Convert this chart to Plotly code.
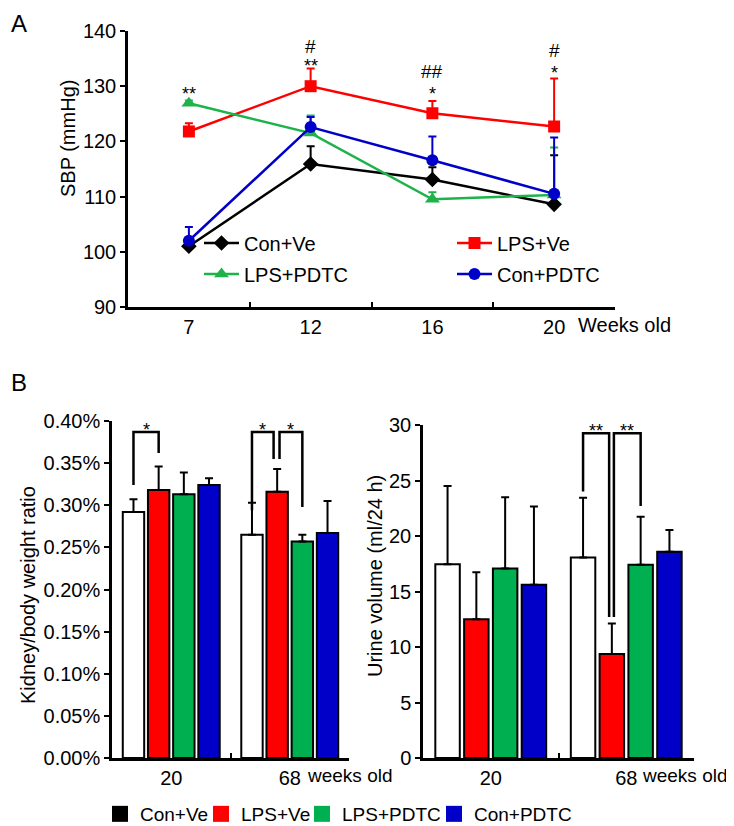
import plotly.graph_objects as go

# ---- panel A: systolic blood pressure ----
weeks = ["7", "12", "16", "20"]
sbp_con_ve = [101.0, 115.9, 113.1, 108.6]
sbp_con_ve_err = [0.4, 3.2, 2.2, 8.9]
sbp_lps_ve = [121.8, 130.0, 125.1, 122.7]
sbp_lps_ve_err = [1.5, 3.2, 2.2, 8.7]
sbp_lps_pdtc = [126.9, 121.5, 109.5, 110.3]
sbp_lps_pdtc_err = [0.5, 3.2, 1.3, 8.6]
sbp_con_pdtc = [102.0, 122.6, 116.6, 110.5]
sbp_con_pdtc_err = [2.5, 1.8, 4.3, 10.2]
sig_a_star = ["**", "**", "*", "*"]
sig_a_star_y = [128.5, 133.7, 128.5, 132.4]
sig_a_hash = ["", "#", "##", "#"]
sig_a_hash_y = [None, 137.2, 132.6, 136.4]

# ---- panel B ----
ages = ["20", "68"]
groups = ["Con+Ve", "LPS+Ve", "LPS+PDTC", "Con+PDTC"]
kidney = {
    "Con+Ve": [0.292, 0.265],
    "LPS+Ve": [0.318, 0.316],
    "LPS+PDTC": [0.313, 0.257],
    "Con+PDTC": [0.324, 0.267],
}
kidney_err = {
    "Con+Ve": [0.015, 0.038],
    "LPS+Ve": [0.028, 0.027],
    "LPS+PDTC": [0.026, 0.008],
    "Con+PDTC": [0.008, 0.038],
}
urine = {
    "Con+Ve": [17.46, 18.06],
    "LPS+Ve": [12.5, 9.38],
    "LPS+PDTC": [17.07, 17.4],
    "Con+PDTC": [15.6, 18.58],
}
urine_err = {
    "Con+Ve": [7.05, 5.38],
    "LPS+Ve": [4.24, 2.73],
    "LPS+PDTC": [6.43, 4.33],
    "Con+PDTC": [7.06, 1.95],
}
fills = {"Con+Ve": "white", "LPS+Ve": "#FF0000", "LPS+PDTC": "#00B050", "Con+PDTC": "#0000C8"}
swatch = {"Con+Ve": "black", "LPS+Ve": "#FF0000", "LPS+PDTC": "#00B050", "Con+PDTC": "#0000C8"}

FONT = "Liberation Sans, Arial, sans-serif"
W, H = 734, 826
OFF = 8  # the page body margin shifts the figure by 8 px


def px_x(p):
    return (p - OFF) / W


def px_y(p):
    return 1 - (p - OFF) / H


fig = go.Figure()

leg_common = dict(orientation="h", font=dict(size=20, family=FONT, color="black"),
                  bgcolor="rgba(0,0,0,0)", yanchor="middle", xanchor="left", borderwidth=0)
legends = {}

# (name, values, errors, colour, symbol, size, legend id, legend x px, legend y px)
line_series = [
    ("Con+Ve", sbp_con_ve, sbp_con_ve_err, "black", "diamond", 12, "legend", 199, 243),
    ("LPS+Ve", sbp_lps_ve, sbp_lps_ve_err, "#FF0000", "square", 12, "legend3", 452, 243),
    ("LPS+PDTC", sbp_lps_pdtc, sbp_lps_pdtc_err, "#1DB34A", "triangle-up", 13, "legend4", 199, 274),
    ("Con+PDTC", sbp_con_pdtc, sbp_con_pdtc_err, "#0000C8", "circle", 12, "legend5", 452, 274),
]
for name, vals, err, col, sym, size, leg, lx, ly in line_series:
    fig.add_trace(go.Scatter(
        x=weeks, y=vals, name=name, mode="lines+markers",
        line=dict(color=col, width=2.5),
        marker=dict(symbol=sym, size=size, color=col),
        error_y=dict(type="data", array=err, arrayminus=[0] * len(err), symmetric=False,
                     color=col, thickness=2, width=4),
        xaxis="x", yaxis="y", legend=leg,
    ))
    legends[leg] = dict(leg_common, x=px_x(lx), y=px_y(ly), itemwidth=35)

for g in groups:
    fig.add_trace(go.Bar(
        x=ages, y=kidney[g], name=g, marker=dict(color=fills[g], line=dict(color="black", width=2)),
        error_y=dict(type="data", array=kidney_err[g], arrayminus=[0, 0], symmetric=False,
                     color="black", thickness=2, width=4),
        xaxis="x2", yaxis="y2", showlegend=False,
    ))
    fig.add_trace(go.Bar(
        x=ages, y=urine[g], name=g, marker=dict(color=fills[g], line=dict(color="black", width=2)),
        error_y=dict(type="data", array=urine_err[g], arrayminus=[0, 0], symmetric=False,
                     color="black", thickness=2, width=4),
        xaxis="x3", yaxis="y3", showlegend=False,
    ))

# legend-only entries for the bar colours (bottom row)
bottom_leg_x = [100, 201, 302, 434]
for k, g in enumerate(groups):
    leg = f"legend{6 + k}"
    fig.add_trace(go.Scatter(
        x=[None], y=[None], name=g, mode="markers",
        marker=dict(symbol="square", size=16, color=swatch[g]),
        xaxis="x2", yaxis="y2", legend=leg,
    ))
    legends[leg] = dict(leg_common, x=px_x(bottom_leg_x[k]), y=px_y(814), itemwidth=30,
                        font=dict(size=19, family=FONT, color="black"))

# bar slot centres (grouped bars, bargap 0.15)
bargap = 0.15
slot = (1 - bargap) / 4
centre = [-(1 - bargap) / 2 + slot * (k + 0.5) for k in range(4)]

# significance brackets: (axis, x_left, x_right, top, y_left, y_right, label)
brackets = [
    ("2", centre[0], centre[1], 0.387, 0.324, 0.362, "*"),
    ("2", 1 + centre[0], 1 + centre[1] - 0.03, 0.387, 0.294, 0.355, "*"),
    ("2", 1 + centre[1] + 0.02, 1 + centre[2], 0.387, 0.355, 0.298, "*"),
    ("3", 1 + centre[0], 1 + centre[1] - 0.02, 29.25, 24.0, 12.7, "**"),
    ("3", 1 + centre[1] + 0.015, 1 + centre[2], 29.25, 12.7, 22.7, "**"),
]
shapes = []
annotations = []
for ax, xl, xr, top, yl, yr, lab in brackets:
    shapes.append(dict(
        type="path", xref="x" + ax, yref="y" + ax,
        path=f"M {xl},{yl} L {xl},{top} L {xr},{top} L {xr},{yr}",
        line=dict(color="black", width=2.5),
    ))
    annotations.append(dict(
        x=(xl + xr) / 2, y=top, xref="x" + ax, yref="y" + ax, text=lab, showarrow=False,
        xanchor="center", yanchor="middle", yshift=2, font=dict(size=18, family=FONT, color="black"),
    ))

for i in range(4):
    annotations.append(dict(x=i, y=sig_a_star_y[i], xref="x", yref="y", text=sig_a_star[i],
                            showarrow=False, xanchor="center", yanchor="middle",
                            font=dict(size=18, family=FONT, color="black")))
    if sig_a_hash[i]:
        annotations.append(dict(x=i, y=sig_a_hash_y[i], xref="x", yref="y", text=sig_a_hash[i],
                                showarrow=False, xanchor="center", yanchor="middle",
                                font=dict(size=19, family=FONT, color="black")))


def paper_text(x, y, text, size=20, angle=0, xanchor="center"):
    return dict(x=px_x(x), y=px_y(y), xref="paper", yref="paper", text=text, showarrow=False,
                xanchor=xanchor, yanchor="middle", textangle=angle,
                font=dict(size=size, family=FONT, color="black"))


annotations += [
    paper_text(19, 24, "A", size=24),
    paper_text(19, 382, "B", size=24),
    paper_text(68, 139, "SBP (mmHg)", angle=-90),
    paper_text(576, 325, "Weeks old", xanchor="left"),
    paper_text(28, 595, "Kidney/body weight ratio", angle=-90),
    paper_text(375, 576, "Urine volume (ml/24 h)", angle=-90),
    dict(x=1, y=px_y(775), xref="x2", yref="paper", text="weeks old", showarrow=False,
         xanchor="left", yanchor="middle", xshift=15, font=dict(size=19, family=FONT, color="black")),
    dict(x=1, y=px_y(775), xref="x3", yref="paper", text="weeks old", showarrow=False,
         xanchor="left", yanchor="middle", xshift=14, font=dict(size=19, family=FONT, color="black")),
]

axis_common = dict(showline=True, linecolor="black", linewidth=2.5, showgrid=False, zeroline=False,
                   tickfont=dict(size=20, family=FONT, color="black"), ticklen=5, tickwidth=2,
                   tickcolor="black")

fig.update_layout(
    width=W, height=H, margin=dict(l=0, r=0, t=0, b=0, autoexpand=False),
    paper_bgcolor="white", plot_bgcolor="white",
    font=dict(family=FONT, color="black"),
    barmode="group", bargap=bargap, bargroupgap=0.15,
    xaxis=dict(axis_common, domain=[px_x(128), px_x(615)], anchor="y", type="category",
               range=[-0.5, 3.5], tickson="boundaries", ticks="inside"),
    yaxis=dict(axis_common, domain=[px_y(307), px_y(31)], anchor="x", range=[90, 140],
               tickvals=[90, 100, 110, 120, 130, 140], ticks="outside"),
    xaxis2=dict(axis_common, domain=[px_x(112), px_x(349)], anchor="y2", type="category",
                range=[-0.5, 1.5], tickson="boundaries", ticks="inside"),
    yaxis2=dict(axis_common, domain=[px_y(758), px_y(421)], anchor="x2", range=[0, 0.4],
                tickvals=[0, 0.05, 0.1, 0.15, 0.2, 0.25, 0.3, 0.35, 0.4],
                ticktext=["0.00%", "0.05%", "0.10%", "0.15%", "0.20%", "0.25%", "0.30%", "0.35%", "0.40%"],
                ticks="outside"),
    xaxis3=dict(axis_common, domain=[px_x(423), px_x(694)], anchor="y3", type="category",
                range=[-0.5, 1.5], tickson="boundaries", ticks="inside"),
    yaxis3=dict(axis_common, domain=[px_y(758), px_y(425)], anchor="x3", range=[0, 30],
                tickvals=[0, 5, 10, 15, 20, 25, 30], ticks="outside"),
    shapes=shapes,
    annotations=annotations,
)
fig.update_layout(**legends)

fig.write_html("out.html")
